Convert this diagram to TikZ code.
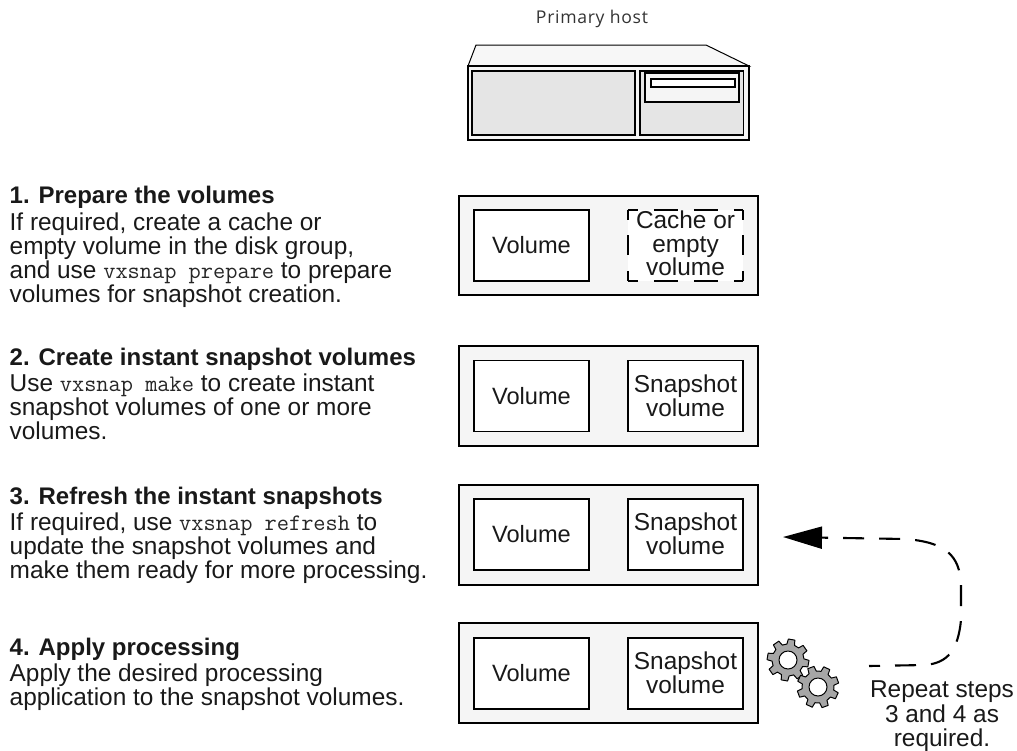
\documentclass[tikz,border=0pt]{standalone}
\usepackage{fontspec}
\setmainfont{Liberation Sans}
\newfontfamily\hostfont[LetterSpace=4]{Open Sans}
\usetikzlibrary{arrows.meta}
\newcommand{\mono}[1]{{\fontsize{23.7}{24}\selectfont\ttfamily\color{black!85}#1}}
\tikzset{
  x=1pt,y=-1pt,
  every node/.style={font=\fontsize{24.4}{24}\selectfont,text=black!90},
  panel/.style={draw=black,line width=1.9pt,fill=black!4},
  hostpart/.style={draw=black,line width=1.9pt,fill=black!10},
  volbox/.style={draw=black,line width=1.9pt,fill=white,minimum width=115pt,minimum height=71pt,inner sep=0pt,align=center,anchor=center},
  plainvol/.style={volbox,font=\fontsize{23.6}{24}\selectfont},
  blankbox/.style={fill=white,minimum width=115pt,minimum height=71pt,inner sep=0pt,align=center,anchor=center},
  stepnote/.style={anchor=north west,inner sep=0pt,align=left},
  hdash/.style={line width=1.9pt,dash pattern=on 24pt off 16pt,dash phase=14pt},
  vdash/.style={line width=1.9pt,dash pattern=on 20pt off 15.5pt,dash phase=10pt},
  gearpart/.style={draw=black,line width=1pt,fill=black!35,line join=round},
  gearhole/.style={draw=black,line width=1pt,fill=white},
  loopline/.style={line width=2.1pt,dash pattern=on 21pt off 15pt,dash phase=10pt,
    -{Triangle[length=39pt,width=22pt]}},
}
\newcommand{\stephead}[1]{{\fontsize{24}{24}\selectfont\bfseries #1}}
\newcommand{\gearat}[3]{%
  \draw[gearpart,shift={(#1,#2)}] ({#3-14}:16)
    foreach \i in {0,1,...,7}{
      -- ({\i*45+#3-14}:16) -- ({\i*45+#3-9}:21) -- ({\i*45+#3+9}:21) -- ({\i*45+#3+14}:16)
      -- ({\i*45+#3+31}:16)
    } -- cycle;
  \draw[gearhole] (#1,#2) circle (9);
}
\begin{document}
\begin{tikzpicture}
\useasboundingbox (0,0) rectangle (1017,750);

% host
\node[font=\hostfont\fontsize{17.6}{20}\selectfont,text=black!80,anchor=base] (hostlabel) at (592,23) {Primary host};
\draw[draw=black,line width=1pt,fill=black!3] (468,66) -- (476,45) -- (706,45) -- (749,66) -- cycle;
\draw[panel] (468,66) rectangle (749,140);
\draw[hostpart] (472,71) rectangle (635,135);
\draw[hostpart] (640,71) rectangle (743.5,135);
\draw[panel] (645,73) rectangle (739,102);
\draw[draw=black,line width=1.9pt,fill=white] (651,79) rectangle (735,87);

% step 1
\draw[panel] (459,196) rectangle (758,295);
\node[plainvol] (vol1) at (531.5,245.5) {Volume};
\node[blankbox] (cache) at (685.5,245.5) {};
\draw[hdash] (cache.north west) -- (cache.north east);
\draw[hdash] (cache.south west) -- (cache.south east);
\draw[vdash] (cache.north west) -- (cache.south west);
\draw[vdash] (cache.north east) -- (cache.south east);
\node[anchor=base] (cachea) at (685.5,228) {Cache or};
\node[anchor=base] (cacheb) at (685.5,252.5) {empty};
\node[anchor=base] (cachec) at (685.5,275.5) {volume};
\node[stepnote] (note1) at (9.5,186) {\stephead{1. Prepare the volumes}\\[2.5pt]If required, create a cache or\\empty volume in the disk group,\\and use \mono{vxsnap prepare} to prepare\\volumes for snapshot creation.};

% step 2
\draw[panel] (459,346) rectangle (758,446);
\node[plainvol] (vol2) at (531.5,396) {Volume};
\node[volbox] (snap2) at (685.5,396) {\raisebox{1pt}{Snapshot}\\\raisebox{1pt}{volume}};
\node[stepnote] (note2) at (9.5,348) {\stephead{2. Create instant snapshot volumes}\\[2pt]Use \mono{vxsnap make} to create instant\\snapshot volumes of one or more\\volumes.};

% step 3
\draw[panel] (459,485) rectangle (758,585);
\node[plainvol] (vol3) at (531.5,534.5) {Volume};
\node[volbox] (snap3) at (685.5,534.5) {\raisebox{1pt}{Snapshot}\\\raisebox{1pt}{volume}};
\node[stepnote] (note3) at (9.5,487) {\stephead{3. Refresh the instant snapshots}\\[2pt]If required, use \mono{vxsnap refresh} to\\update the snapshot volumes and\\make them ready for more processing.};

% step 4
\draw[panel] (459,623) rectangle (758,723);
\node[plainvol] (vol4) at (531.5,673.5) {Volume};
\node[volbox] (snap4) at (685.5,673.5) {\raisebox{1pt}{Snapshot}\\\raisebox{1pt}{volume}};
\node[stepnote] (note4) at (9.5,637.5) {\stephead{4. Apply processing}\\[2pt]Apply the desired processing\\application to the snapshot volumes.};

% gears
\gearat{788}{660}{10}
\gearat{818}{687}{25}

% repeat loop
\coordinate (loopstart) at (869,666);
\coordinate (looptip) at (783,537);
\draw[loopline] (loopstart) -- (925,665) .. controls (948,663) and (958,650) .. (961,620) -- (961,585) .. controls (960,555) and (945,542) .. (905,539) -- (looptip);
\node[anchor=base] (repeat) at (942,697) {Repeat steps};
\node[anchor=base] (repeatb) at (942,722.5) {3 and 4 as};
\node[anchor=base] (repeatc) at (942,746) {required.};
\end{tikzpicture}
\end{document}
